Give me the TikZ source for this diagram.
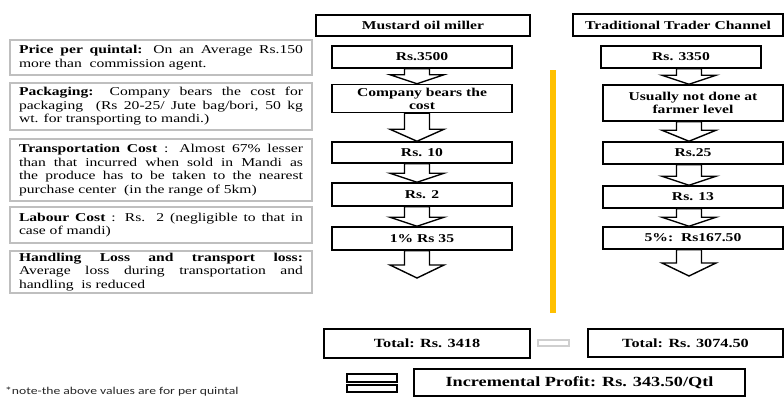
\documentclass[tikz,border=0pt]{standalone}
\usepackage{fontspec}
\setmainfont{Liberation Serif}[FakeStretch=1.3]
\newfontfamily\notefont{Carlito}[FakeStretch=1.3]
\usetikzlibrary{calc}

\definecolor{barorange}{HTML}{FFC000}
\definecolor{framegray}{HTML}{BFBFBF}
\definecolor{signgray}{HTML}{CFCFCF}

\tikzset{
  x=1pt, y=1pt,
  valbox/.style={draw=black, line width=1.5pt, fill=white, inner sep=0pt,
    align=center, font=\fontsize{12}{13}\selectfont\bfseries},
  notebox/.style={draw=framegray, line width=2.5pt, fill=white,
    text width=284pt, inner xsep=9pt, inner ysep=0pt, align=justify,
    font=\fontsize{12}{13.5}\selectfont},
  signbox/.style={draw=black, line width=1.4pt, fill=white, inner sep=0pt},
  blockarrow/.style={draw=black, line width=1.4pt, fill=white, line join=miter},
}

% hollow block arrow: #1 = top centre, #2 = tip, #3 = head length
\newcommand\blockarrow[3]{%
  \draw[blockarrow] let \p1=(#1), \p2=(#2) in
    (\x1-12.5pt,\y1) -- (\x1-12.5pt,\y2+#3) -- (\x1-27pt,\y2+#3) -- (\x1,\y2)
    -- (\x1+27pt,\y2+#3) -- (\x1+12.5pt,\y2+#3) -- (\x1+12.5pt,\y1) -- cycle;}

\begin{document}
\begin{tikzpicture}
\useasboundingbox (0,0) rectangle (784,397);
\clip (0,0) rectangle (784,397);

% separator bar between the two channels
\fill[barorange] (550,84) rectangle (556,327);

% explanatory notes on the left
\node[notebox, minimum height=35pt] (price) at (161,339.5)
  {\textbf{Price per quintal:} On an Average Rs.150\linebreak more than\ \ commission agent.};
\node[notebox, minimum height=47pt] (pack) at (161,290.5)
  {\textbf{Packaging:} Company bears the cost for\linebreak packaging\ \ (Rs 20-25/ Jute bag/bori, 50 kg\linebreak wt. for transporting to mandi.)};
\node[notebox, minimum height=62pt] (trans) at (161,227)
  {\textbf{Transportation Cost} : Almost 67\% lesser\linebreak than that incurred when sold in Mandi as\linebreak the produce has to be taken to the nearest\linebreak purchase center\ \ (in the range of 5km)};
\node[notebox, minimum height=36pt] (labour) at (161,172)
  {\textbf{Labour Cost} : Rs. 2 (negligible to that in\linebreak case of mandi)};
\node[notebox, minimum height=42pt] (handl) at (161,125)
  {\textbf{Handling Loss and transport loss:}\linebreak Average loss during transportation and\linebreak handling\ \ is reduced};

% column headers
\node[valbox, minimum width=214pt, minimum height=21pt] (mhead) at (423,371.5) {Mustard oil miller};
\node[valbox, minimum width=210pt, minimum height=22pt] (thead) at (678,372) {Traditional Trader Channel};

% mustard oil miller column
\node[valbox, minimum width=180pt, minimum height=22pt] (m1) at (422,340) {Rs.3500};
\node[valbox, minimum width=180pt, minimum height=28pt] (m2) at (422,298.5) {Company bears the\\cost};
\node[valbox, minimum width=180pt, minimum height=21pt] (m3) at (422,244.5) {Rs. 10};
\node[valbox, minimum width=180pt, minimum height=23pt] (m4) at (422,202.5) {Rs. 2};
\node[valbox, minimum width=180pt, minimum height=23pt] (m5) at (422,158.5) {1\% Rs 35};

% traditional trader column
\node[valbox, minimum width=160pt, minimum height=22pt] (t1) at (681,340) {Rs. 3350};
\node[valbox, minimum width=180pt, minimum height=36pt] (t2) at (693,294) {Usually not done at\\farmer level};
\node[valbox, minimum width=180pt, minimum height=22pt] (t3) at (693,244) {Rs.25};
\node[valbox, minimum width=180pt, minimum height=22pt] (t4) at (693,200) {Rs. 13};
\node[valbox, minimum width=180pt, minimum height=22pt] (t5) at (693,159) {5\%:\ \ Rs167.50};

% arrow axes and open ends
\coordinate (maxis) at (417,0);
\coordinate (taxis) at (689,0);
\coordinate (mend) at (417,119);
\coordinate (tend) at (689,121);

\blockarrow{m1.south -| maxis}{m2.north -| maxis}{9pt}
\blockarrow{m2.south -| maxis}{m3.north -| maxis}{12pt}
\blockarrow{m3.south -| maxis}{m4.north -| maxis}{9pt}
\blockarrow{m4.south -| maxis}{m5.north -| maxis}{9pt}
\blockarrow{m5.south -| maxis}{mend}{13pt}

\blockarrow{t1.south -| taxis}{t2.north -| taxis}{9pt}
\blockarrow{t2.south -| taxis}{t3.north -| taxis}{11pt}
\blockarrow{t3.south -| taxis}{t4.north -| taxis}{9pt}
\blockarrow{t4.south -| taxis}{t5.north -| taxis}{9pt}
\blockarrow{t5.south -| taxis}{tend}{13pt}

% totals
\node[valbox, font=\fontsize{12.5}{14}\selectfont\bfseries, minimum width=206pt, minimum height=29pt] (tot1) at (427,53.5) {Total: Rs. 3418};
\node[draw=signgray, line width=2pt, fill=white, inner sep=0pt, minimum width=31pt, minimum height=6pt] (minus) at (553.5,54) {};
\node[valbox, font=\fontsize{12.5}{14}\selectfont\bfseries, minimum width=195pt, minimum height=28pt] (tot2) at (685.5,54) {Total: Rs. 3074.50};

% result
\node[signbox, minimum width=50pt, minimum height=8pt] (eqtop) at (372,19) {};
\node[signbox, minimum width=50pt, minimum height=7pt] (eqbot) at (372,8.5) {};
\node[valbox, font=\fontsize{14}{16}\selectfont\bfseries, minimum width=331pt, minimum height=27pt] (profit) at (579.5,14.5) {Incremental Profit: Rs. 343.50/Qtl};

% footnote
\node[anchor=south west, inner sep=0pt, font=\notefont\fontsize{10.5}{12}\selectfont, text=black!85] (note) at (5,0.8) {*note-the above values are for per quintal};
\end{tikzpicture}
\end{document}
